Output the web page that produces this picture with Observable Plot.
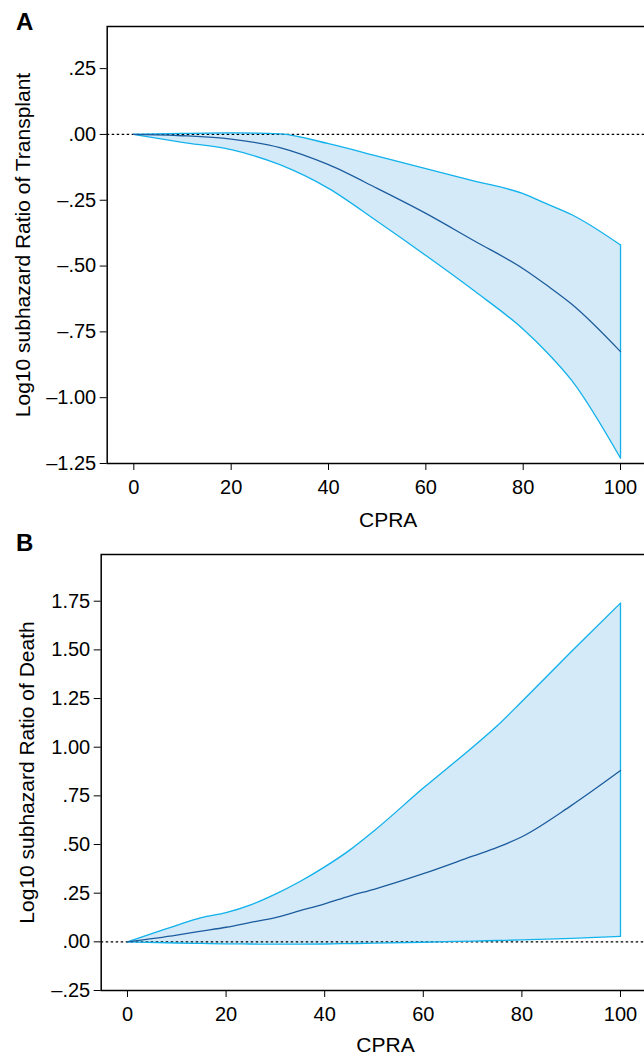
<!DOCTYPE html>
<html><head><meta charset="utf-8">
<script src="https://cdn.jsdelivr.net/npm/d3@7"></script>
<script src="https://cdn.jsdelivr.net/npm/@observablehq/plot@0.6"></script>
<style>
html,body{margin:0;padding:0;background:#fff;overflow:hidden;width:644px;height:1056px;}
#wrap{position:relative;width:644px;height:1056px;overflow:hidden;font-family:"Liberation Sans",Arial,sans-serif;}
.panel{position:absolute;left:0;}
.panel svg{max-width:none !important;}
.tag{position:absolute;font-weight:bold;font-size:24px;line-height:1;}
</style></head><body>
<div id="wrap">
  <div class="panel" id="pa" style="top:0px"></div>
  <div class="panel" id="pb" style="top:535px"></div>
  <div class="tag" style="left:16px;top:10px">A</div>
  <div class="tag" style="left:16px;top:531px">B</div>
</div>
<script>
// Panel A: transplant
const cpraA  = [0, 10, 20, 30, 40, 50, 60, 70, 80, 85, 90, 100];
const upperA = [0, 0.004, 0.006, 0.002, -0.035, -0.082, -0.13, -0.177, -0.225, -0.265, -0.305, -0.42];
const midA   = [0, -0.005, -0.018, -0.05, -0.115, -0.205, -0.3, -0.405, -0.51, -0.575, -0.645, -0.825];
const lowerA = [0, -0.03, -0.058, -0.115, -0.205, -0.33, -0.46, -0.595, -0.74, -0.83, -0.935, -1.23];

// Panel B: death
const cpraB  = [0, 10, 15, 20, 25, 30, 35, 40, 45, 50, 60, 70, 75, 80, 90, 100];
const upperB = [0, 0.085, 0.125, 0.15, 0.19, 0.245, 0.31, 0.385, 0.47, 0.57, 0.79, 1.0, 1.11, 1.235, 1.49, 1.74];
const midB   = [0, 0.035, 0.055, 0.075, 0.1, 0.125, 0.16, 0.195, 0.235, 0.27, 0.35, 0.44, 0.485, 0.54, 0.7, 0.88];
const lowerB = [0, -0.006, -0.008, -0.01, -0.011, -0.012, -0.012, -0.011, -0.009, -0.007, -0.002, 0.004, 0.007, 0.01, 0.018, 0.028];

const xTicks  = [0, 20, 40, 60, 80, 100];
const yTicksA = [-1.25, -1, -0.75, -0.5, -0.25, 0, 0.25];
const yTicksB = [-0.25, 0, 0.25, 0.5, 0.75, 1, 1.25, 1.5, 1.75];
const xLabel = "CPRA";
const yLabelA = "Log10 subhazard Ratio of Transplant";
const yLabelB = "Log10 subhazard Ratio of Death";

const FILL = "#d4eaf8", CYAN = "#12b2ec", DARK = "#1c5c9e";
const FONT = "'Liberation Sans', Arial, Helvetica, sans-serif";
const fmt = v => (v < -1e-9 ? "\u2013" : "") + Math.abs(v).toFixed(2).replace(/^0/, "");

function panel(xs, hi, mid, lo, cfg) {
  const data = xs.map((x, i) => ({x, hi: hi[i], mid: mid[i], lo: lo[i]}));
  const last = data.filter(d => d.x === 100);
  return Plot.plot({
    width: 700, height: cfg.height,
    marginLeft: cfg.ml, marginRight: cfg.mr, marginTop: cfg.mt, marginBottom: cfg.mb,
    x: {domain: cfg.xd},
    y: {domain: cfg.yd},
    style: {fontFamily: FONT, fontSize: "20px", color: "#000", background: "transparent", maxWidth: "none", overflow: "visible"},
    marks: [
      Plot.areaY(data, {x: "x", y1: "lo", y2: "hi", fill: FILL, curve: "monotone-x"}),
      Plot.ruleY([0], {stroke: "#000", strokeDasharray: "2.5,2.5", strokeWidth: 1.2}),
      Plot.line(data, {x: "x", y: "hi", stroke: CYAN, strokeWidth: 1.3, curve: "monotone-x"}),
      Plot.line(data, {x: "x", y: "lo", stroke: CYAN, strokeWidth: 1.3, curve: "monotone-x"}),
      Plot.ruleX(last, {x: "x", y1: "lo", y2: "hi", stroke: CYAN, strokeWidth: 1.3}),
      Plot.line(data, {x: "x", y: "mid", stroke: DARK, strokeWidth: 1.3, curve: "monotone-x"}),
      Plot.frame({stroke: "#000", strokeWidth: 1.5}),
      Plot.axisX({ticks: xTicks, tickSize: 7, tickPadding: 9, label: null, tickFormat: d => String(d), fontSize: 20}),
      Plot.axisY({ticks: cfg.yt, tickSize: 7, tickPadding: 4, tickFormat: fmt, label: null, fontSize: 20}),
      Plot.text([xLabel], {text: d => d, frameAnchor: "bottom", dy: cfg.xdy, lineAnchor: "middle", textAnchor: "middle", fontSize: 21}),
      Plot.text([cfg.yl], {text: d => d, frameAnchor: "left", dx: cfg.ydx, rotate: -90, lineAnchor: "middle", textAnchor: "middle", fontSize: 21})
    ]
  });
}

document.getElementById("pa").append(panel(cpraA, upperA, midA, lowerA, {
  height: 535, ml: 106.7, mr: 31.3, mt: 26, mb: 72, xd: [-5.47, 110], yd: [-1.25, 0.41],
  yt: yTicksA, yl: yLabelA, xdy: 57, ydx: -84
}));
document.getElementById("pb").append(panel(cpraB, upperB, midB, lowerB, {
  height: 521, ml: 100.7, mr: 30.7, mt: 19, mb: 66, xd: [-5.33, 110], yd: [-0.25, 1.99],
  yt: yTicksB, yl: yLabelB, xdy: 55, ydx: -74
}));
</script>
</body></html>
